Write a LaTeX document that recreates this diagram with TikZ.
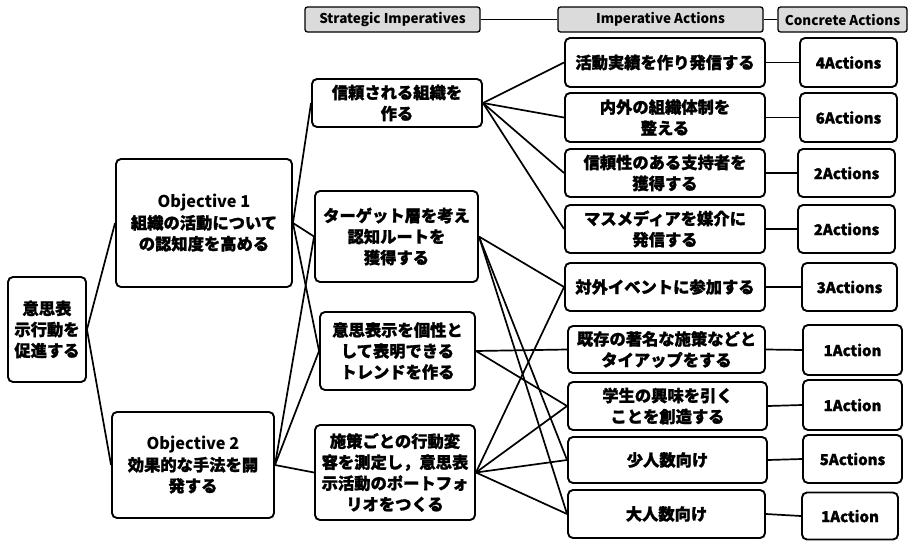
\documentclass[tikz,border=0pt]{standalone}
\usepackage{fontspec}
\setmainfont{Noto Sans CJK JP}[BoldFeatures={FakeBold=1.2}]
\newfontfamily\hdfont{Noto Sans CJK JP}
\begin{document}
\begin{tikzpicture}[x=1pt,y=-1pt,
  box/.style={draw, line width=1.9pt, rounded corners=5pt, fill=white, inner sep=0pt, align=center,
    font=\fontsize{16.3}{21}\selectfont\bfseries},
  cbox/.style={box, font=\fontsize{15}{18}\selectfont\bfseries},
  hbox/.style={draw, line width=1.3pt, rounded corners=2.5pt, fill=gray!28, inner sep=0pt, align=center,
    minimum height=25pt, font=\fontsize{13.5}{16}\selectfont\hdfont\bfseries},
  link/.style={line width=1.7pt}]
\useasboundingbox (0,0) rectangle (913,541);
% headers
\node[hbox, minimum width=175pt] (h1) at (392.5,19.5) {Strategic Imperatives};
\node[hbox, minimum width=205pt] (h2) at (660.5,19.5) {Imperative Actions};
\node[hbox, minimum width=129pt] (h3) at (842.5,19.5) {Concrete Actions};
\draw[line width=1.3pt] (h1.east) -- (h2.west);
\draw[line width=1.3pt] (h2.east) -- (h3.west);
% root and objectives
\node[box, minimum width=78pt, minimum height=105pt] (root) at (47,329.5) {意思表\\示行動を\\促進する};
\node[box, minimum width=176pt, minimum height=128pt] (o1) at (204,223) {{\hdfont\bfseries Objective 1}\\組織の活動について\\の認知度を高める};
\node[box, minimum width=162pt, minimum height=106pt] (o2) at (193,465) {{\hdfont\bfseries Objective 2}\\効果的な手法を開\\発する};
% strategic imperatives
\node[box, minimum width=170pt, minimum height=48pt] (s1) at (397,103) {信頼される組織を\\作る};
\node[box, minimum width=163pt, minimum height=91pt] (s2) at (396.5,236.5) {ターゲット層を考え\\認知ルートを\\獲得する};
\node[box, minimum width=155pt, minimum height=78pt] (s3) at (397.5,351) {意思表示を個性と\\して表明できる\\トレンドを作る};
\node[box, minimum width=160pt, minimum height=95pt] (s4) at (395,472.5) {施策ごとの行動変\\容を測定し，意思表\\示活動のポートフォ\\リオをつくる};
% imperative actions
\node[box, minimum width=200pt, minimum height=49pt] (a1) at (665,62.5) {活動実績を作り発信する};
\node[box, minimum width=200pt, minimum height=49pt] (a2) at (665,117.5) {内外の組織体制を\\整える};
\node[box, minimum width=200pt, minimum height=48pt] (a3) at (665,173) {信頼性のある支持者を\\獲得する};
\node[box, minimum width=200pt, minimum height=48pt] (a4) at (665,229) {マスメディアを媒介に\\発信する};
\node[box, minimum width=200pt, minimum height=48pt] (a5) at (665,287) {対外イベントに参加する};
\node[box, minimum width=197pt, minimum height=47pt] (a6) at (666.5,349.5) {既存の著名な施策などと\\タイアップをする};
\node[box, minimum width=199pt, minimum height=48pt] (a7) at (667.5,406) {学生の興味を引く\\ことを創造する};
\node[box, minimum width=199pt, minimum height=46pt] (a8) at (667.5,460) {少人数向け};
\node[box, minimum width=197pt, minimum height=48pt] (a9) at (666.5,514) {大人数向け};
% concrete actions
\node[cbox, minimum width=97pt, minimum height=49pt] (c1) at (848.5,62.5) {4Actions};
\node[cbox, minimum width=97pt, minimum height=49pt] (c2) at (848.5,117.5) {6Actions};
\node[cbox, minimum width=97pt, minimum height=48pt] (c3) at (846.5,173) {2Actions};
\node[cbox, minimum width=97pt, minimum height=48pt] (c4) at (846.5,229) {2Actions};
\node[cbox, minimum width=95pt, minimum height=48pt] (c5) at (849.5,287) {3Actions};
\node[cbox, minimum width=99pt, minimum height=50pt] (c6) at (852.5,350) {1Action};
\node[cbox, minimum width=99pt, minimum height=50pt] (c7) at (852.5,405) {1Action};
\node[cbox, minimum width=99pt, minimum height=48pt] (c8) at (852.5,459) {5Actions};
\node[cbox, minimum width=96pt, minimum height=47pt] (c9) at (850,516) {1Action};
% links
\draw[link] (root.east) -- (o1.west);
\draw[link] (root.east) -- (o2.west);
\draw[link] (o1.east) -- (s1.west);
\draw[link] (o1.east) -- (s2.west);
\draw[link] (o1.east) -- (s3.west);
\draw[link] (o2.east) -- (s2.west);
\draw[link] (o2.east) -- (s3.west);
\draw[link] (o2.east) -- (s4.west);
\foreach \t in {a1,a2,a3,a4} \draw[link] (s1.east) -- (\t.west);
\foreach \t in {a5,a8,a9} \draw[link] (s2.east) -- (\t.west);
\foreach \t in {a6,a7} \draw[link] (s3.east) -- (\t.west);
\foreach \t in {a5,a7,a8,a9} \draw[link] (s4.east) -- (\t.west);
\foreach \i in {1,...,9} \draw[link] (a\i.east) -- (c\i.west);
\end{tikzpicture}
\end{document}
